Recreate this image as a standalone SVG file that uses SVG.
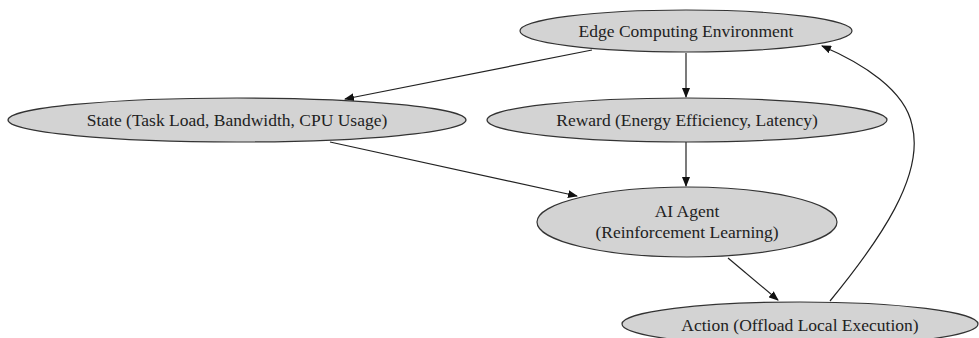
<svg xmlns="http://www.w3.org/2000/svg" width="979" height="338" viewBox="0 0 979 338">
<style>
.n ellipse{fill:#d3d3d3;stroke:#333;stroke-width:1.2}
.n text{font-family:"Liberation Serif","Times New Roman",serif;font-size:17.5px;fill:#222;text-anchor:middle}
.e path{fill:none;stroke:#222;stroke-width:1.2;marker-end:url(#ah)}
</style>
<defs>
<marker id="ah" markerWidth="10" markerHeight="8" refX="9" refY="4" orient="auto" markerUnits="userSpaceOnUse">
<path d="M0,0 L10,4 L0,8 Z" fill="#111"/>
</marker>
</defs>
<rect width="979" height="338" fill="#fff"/>
<g class="e">
<path d="M592,50 L345,99"/>
<path d="M686,53 L686,97"/>
<path d="M686,142 L686,186"/>
<path d="M330,142 L577,196"/>
<path d="M728,258 L778,300"/>
<path d="M830,301 C880,240 925,175 912,125 C905,90 862,63 822,46"/>
</g>
<g class="n" id="env"><ellipse cx="686" cy="31" rx="166" ry="21"/><text x="686" y="37">Edge Computing Environment</text></g>
<g class="n" id="state"><ellipse cx="237" cy="120" rx="229" ry="22"/><text x="237" y="126">State (Task Load, Bandwidth, CPU Usage)</text></g>
<g class="n" id="reward"><ellipse cx="687" cy="120" rx="200" ry="22"/><text x="687" y="126">Reward (Energy Efficiency, Latency)</text></g>
<g class="n" id="agent"><ellipse cx="687" cy="222" rx="150" ry="35"/><text x="687" y="217">AI Agent</text><text x="687" y="238">(Reinforcement Learning)</text></g>
<g class="n" id="action"><ellipse cx="800" cy="324" rx="178" ry="22"/><text x="800" y="331">Action (Offload Local Execution)</text></g>
</svg>
